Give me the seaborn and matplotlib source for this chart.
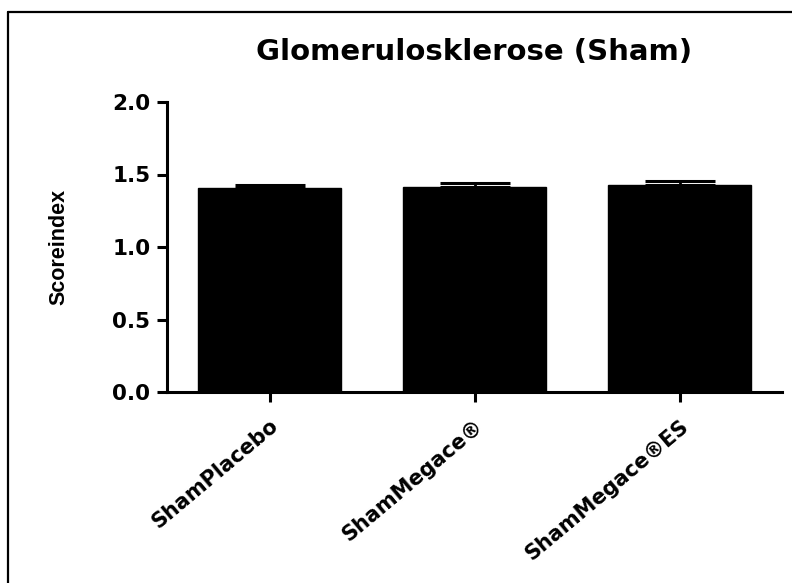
import matplotlib
matplotlib.use("Agg")
import matplotlib.pyplot as plt
from matplotlib.lines import Line2D
import pandas as pd
import seaborn as sns

sns.set_theme(style="white")
plt.rcParams["font.family"] = ["DejaVu Sans"]
plt.rcParams["text.color"] = "black"
plt.rcParams["axes.labelcolor"] = "black"
plt.rcParams["xtick.color"] = "black"
plt.rcParams["ytick.color"] = "black"

groups = ["ShamPlacebo", "ShamMegace®", "ShamMegace®ES"]
means = [1.405, 1.412, 1.428]
sems = [0.020, 0.030, 0.025]
yticks = [0.0, 0.5, 1.0, 1.5, 2.0]

df = pd.DataFrame({"group": groups, "score": means})

fig = plt.figure(figsize=(7.92, 5.83), dpi=100)
ax = fig.add_axes([167 / 792, 1 - 392 / 583, (782 - 167) / 792, (392 - 102) / 583])

sns.barplot(data=df, x="group", y="score", color="black", edgecolor="black",
            width=0.7, errorbar=None, saturation=1, ax=ax)

# only the upper half of the SEM shows above the bars
ax.errorbar(range(len(groups)), means, yerr=[[0] * len(sems), sems], fmt="none",
            ecolor="black", elinewidth=2, capsize=25, capthick=2.2, zorder=1)

ax.set_xlim(-0.5, 2.5)
ax.set_ylim(0, 2.0)
ax.set_yticks(yticks)
ax.set_yticklabels([f"{t:.1f}" for t in yticks], fontsize=15.5, fontweight="bold")
ax.set_xticks(range(len(groups)))
ax.set_xticklabels(groups, rotation=40, ha="right", va="top", rotation_mode="anchor",
                   fontsize=15, fontweight="bold")

for side in ["top", "right"]:
    ax.spines[side].set_visible(False)
for side in ["left", "bottom"]:
    ax.spines[side].set_linewidth(2.2)
    ax.spines[side].set_color("black")
ax.tick_params(axis="both", which="major", direction="out", length=7, width=2.2,
               color="black", left=True, bottom=True)
ax.tick_params(axis="x", pad=10)
ax.tick_params(axis="y", pad=5)

ax.set_xlabel("")
ax.set_ylabel("Scoreindex", fontsize=15.5, family=["Liberation Sans"], fontweight="bold")
ax.yaxis.set_label_coords(-0.158, 0.5)
ax.set_title("Glomerulosklerose (Sham)", fontsize=21, fontweight="bold", pad=30)

# outer frame (only left and top edges fall inside the picture)
fig.add_artist(Line2D([8 / 792, 8 / 792], [0, 1 - 12 / 583], color="black", lw=1.6,
                      transform=fig.transFigure))
fig.add_artist(Line2D([8 / 792, 1], [1 - 12 / 583, 1 - 12 / 583], color="black", lw=1.6,
                      transform=fig.transFigure))

fig.savefig("out.png", dpi=100)
